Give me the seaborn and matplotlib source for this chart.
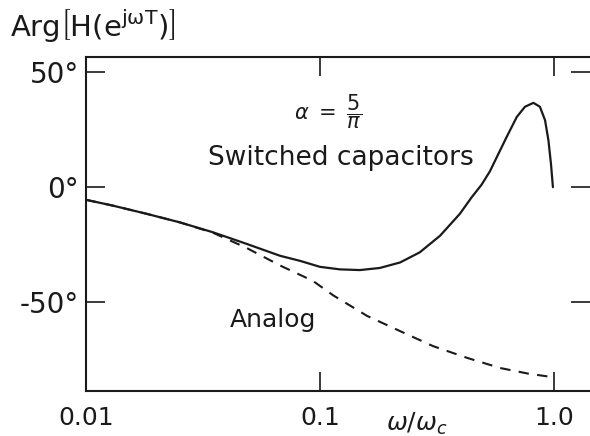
import numpy as np
import pandas as pd
import matplotlib
matplotlib.use('Agg')
import matplotlib.pyplot as plt
import seaborn as sns

# frequency ratio w/wc (log axis) and phase in degrees
sc_freq = [0.01, 0.013, 0.0182, 0.0252, 0.0349, 0.0488, 0.0675, 0.0822, 0.1,
           0.1217, 0.148, 0.18, 0.22, 0.267, 0.326, 0.396, 0.445, 0.49, 0.532,
           0.628, 0.694, 0.752, 0.817, 0.871, 0.916, 0.947, 0.971, 0.99]
sc_phase = [-5.5, -8.0, -11.6, -15.3, -19.6, -24.7, -29.8, -32.0, -34.6,
            -35.7, -36.0, -35.1, -32.7, -28.3, -21.1, -11.6, -4.4, 1.0, 6.8,
            21.8, 30.5, 34.9, 36.6, 34.9, 29.1, 20.4, 10.2, 0.0]

analog_freq = [0.01, 0.013, 0.0182, 0.0252, 0.0349, 0.0488, 0.0675, 0.0933, 0.114,
               0.159, 0.22, 0.304, 0.425, 0.588, 0.78, 0.99]
analog_phase = [-5.5, -8.0, -11.6, -15.3, -19.8, -26.5, -34.0, -40.7, -47.0,
                -55.9, -62.5, -69.0, -74.1, -78.5, -81.0, -82.5]

xtick_vals = [0.01, 0.1, 1.0]
xtick_labels = ['0.01', '0.1', '1.0']
ytick_vals = [50, 0, -50]
ytick_labels = ['50°', '0°', '-50°']

sc = pd.DataFrame({'freq': sc_freq, 'phase': sc_phase})
analog = pd.DataFrame({'freq': analog_freq, 'phase': analog_phase})

sns.set_style('ticks')
plt.rcParams['font.family'] = ['DejaVu Sans']
plt.rcParams['mathtext.fontset'] = 'dejavusans'

fig = plt.figure(figsize=(5.9, 4.36), dpi=100)
ax = fig.add_axes([86 / 590, 45 / 436, 504 / 590, 334 / 436])

ink = '#1a1a1a'
sns.lineplot(data=analog, x='freq', y='phase', ax=ax, sort=False, color=ink,
             linewidth=1.5, linestyle=(0, (5, 4)))
sns.lineplot(data=sc, x='freq', y='phase', ax=ax, sort=False, color=ink,
             linewidth=1.6)

ax.set_xscale('log')
ax.set_xlim(0.01, 1.426)
ax.set_ylim(-88.5, 56.5)
ax.xaxis.set_minor_locator(matplotlib.ticker.NullLocator())
ax.set_xticks(xtick_vals)
ax.set_xticklabels(xtick_labels)
ax.set_yticks(ytick_vals)
ax.set_yticklabels(ytick_labels)
ax.set_xlabel('')
ax.set_ylabel('')

ax.tick_params(axis='both', which='major', direction='in', length=14, width=1.2,
               color=ink, labelcolor=ink, top=True, right=True)
ax.tick_params(axis='x', pad=11, labelsize=18)
ax.tick_params(axis='y', pad=5, labelsize=20)
for s in ax.spines.values():
    s.set_linewidth(1.5)
    s.set_color(ink)
ax.spines['right'].set_visible(False)

ax.text(0.108, 32.6, r'$\alpha\ =\ \dfrac{5}{\pi}$', fontsize=15, color=ink,
        ha='center', va='center')
ax.text(0.123, 12.5, 'Switched capacitors', fontsize=19, color=ink,
        ha='center', va='center')
ax.text(0.063, -57.5, 'Analog', fontsize=18, color=ink,
        ha='center', va='center')

fig.text(417 / 590, 1 - 424 / 436, r'$\omega/\omega_c$', fontsize=18, color=ink,
         ha='center', va='center')
fig.text(10 / 590, 1 - 25 / 436, r'Arg$\left[\mathrm{H(e^{j\omega T})}\right]$',
         fontsize=21, color=ink, ha='left', va='center')

fig.savefig('out.png', dpi=100)
